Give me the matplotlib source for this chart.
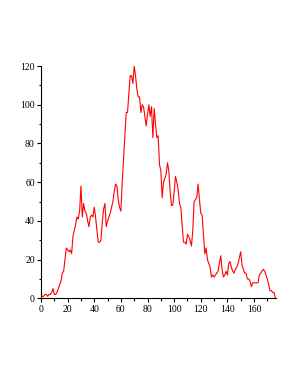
import matplotlib
matplotlib.use("Agg")
import matplotlib.pyplot as plt
from matplotlib.ticker import MultipleLocator

x_values = list(range(0, 177))
y_values = [
    1, 1, 1, 2, 2, 1, 2, 2, 3, 5,
    2, 2, 3, 5, 7, 9, 13, 14, 20, 26,
    25, 24, 25, 23, 32, 35, 38, 42, 41, 45,
    58, 42, 49, 45, 44, 40, 37, 42, 43, 42,
    47, 42, 35, 29, 29, 30, 39, 46, 49, 37,
    40, 42, 44, 47, 50, 55, 59, 58, 51, 47,
    45, 60, 72, 85, 96, 96, 106, 115, 115, 111,
    120, 115, 108, 104, 104, 96, 100, 99, 94, 89,
    95, 100, 94, 99, 83, 98, 90, 83, 84, 69,
    66, 52, 60, 62, 64, 70, 66, 55, 48, 48,
    55, 63, 60, 56, 49, 47, 38, 29, 29, 28,
    33, 32, 30, 27, 35, 50, 51, 52, 59, 51,
    44, 43, 33, 23, 26, 20, 18, 16, 11, 12,
    11, 12, 13, 14, 18, 22, 15, 11, 12, 14,
    12, 18, 19, 16, 14, 13, 15, 16, 18, 21,
    24, 17, 15, 13, 13, 10, 10, 9, 6, 8,
    8, 8, 8, 8, 12, 13, 14, 15, 14, 12,
    10, 7, 4, 4, 3, 3, 0,
]
x_ticks = [0, 20, 40, 60, 80, 100, 120, 140, 160]
y_ticks = [0, 20, 40, 60, 80, 100, 120]

plt.rcParams['font.family'] = ['Liberation Serif', 'DejaVu Serif']

fig = plt.figure(figsize=(2.98, 3.85), dpi=100)
ax = fig.add_axes([41/298, 1 - 298.3/385, (276 - 41)/298, (298.3 - 66)/385])
ax.plot(x_values, y_values, color='#ff0000', linewidth=0.8)
ax.set_xlim(0, 176.5)
ax.set_ylim(0, 120)
ax.set_xticks(x_ticks)
ax.set_yticks(y_ticks)
ax.xaxis.set_minor_locator(MultipleLocator(10))
ax.yaxis.set_minor_locator(MultipleLocator(10))
ax.spines['top'].set_visible(False)
ax.spines['right'].set_visible(False)
for s in ('left', 'bottom'):
    ax.spines[s].set_linewidth(0.8)
ax.tick_params(which='major', length=3, width=0.8, labelsize=7, pad=1.5)
ax.tick_params(which='minor', length=1.8, width=0.8)
fig.savefig('out.png', dpi=100)
